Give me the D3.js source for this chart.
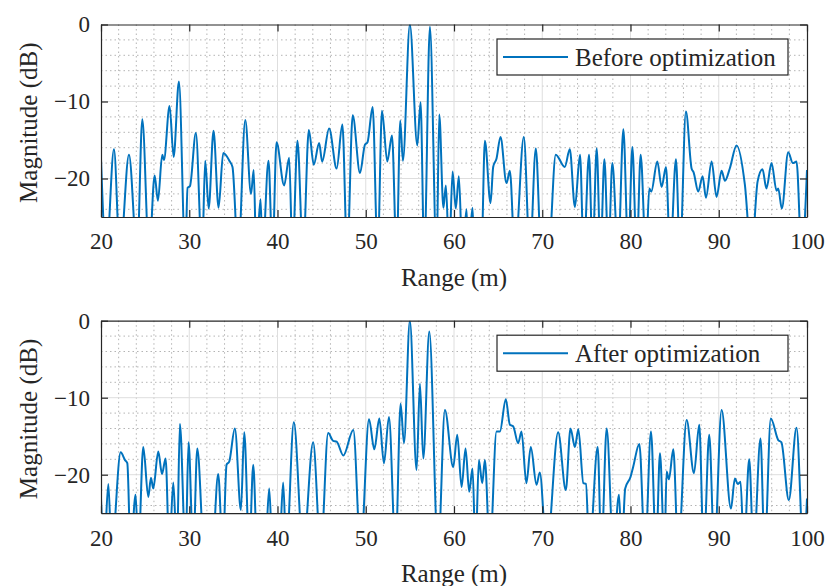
<!DOCTYPE html>
<meta charset="utf-8">
<style>
    body {
        margin: 0;
        background: #fff;
    }

    svg text {
        font-family: "Liberation Serif", "Times New Roman", serif;
        fill: #262626;
    }

    .axis path,
    .axis line {
        fill: none;
        stroke: #262626;
        stroke-width: 1.2;
    }

    .grid-major {
        stroke: #dedede;
        stroke-width: 1;
    }

    .grid-minor {
        stroke: #b4b4b4;
        stroke-width: 1;
        stroke-dasharray: 1.5, 3;
    }
</style>

<body>
    <script src="https://d3js.org/d3.v7.min.js"></script>
    <script>

        // range (m), magnitude (dB); -30 marks a null that drops below the axis
        var beforeData = [
            [20.0, -17.5], [20.6, -30], [21.47, -16.2], [22.15, -30], [23.17, -16.9], [24.1, -30],
            [24.68, -12.3], [25.45, -30], [26.08, -19.6], [26.45, -22.9], [26.94, -16.9], [27.13, -17.6],
            [27.77, -10.6], [28.23, -17.2], [28.83, -7.4], [29.55, -30], [29.81, -21.2], [30.08, -21.0],
            [30.75, -14.1], [31.45, -30], [31.81, -17.7], [32.2, -23.9], [32.75, -13.8], [33.32, -23.8],
            [33.85, -16.7], [34.6, -17.8], [34.9, -18.5], [35.55, -30], [36.35, -12.4], [37.0, -22.0],
            [37.3, -18.9], [37.6, -30], [38.08, -22.7], [38.3, -30], [38.98, -17.7], [39.43, -30],
            [39.89, -15.3], [40.75, -20.9], [41.32, -17.3], [41.7, -30], [42.26, -15.1], [42.9, -30],
            [43.55, -13.7], [44.11, -18.2], [44.72, -15.4], [45.06, -17.8], [45.85, -13.5], [46.7, -18.7],
            [47.35, -13.0], [47.9, -30], [48.52, -11.8], [49.35, -19.3], [49.91, -15.6], [50.2, -15.3],
            [50.78, -10.7], [51.35, -30], [51.84, -11.2], [52.44, -17.8], [52.97, -14.4], [53.5, -30],
            [53.91, -12.5], [54.21, -17.7], [55.0, 0], [55.84, -15.7], [56.21, -10.1], [56.63, -30],
            [57.27, -0.3], [58.03, -30], [58.33, -11.7], [58.8, -23.8], [59.08, -20.9], [59.45, -30],
            [59.84, -19.1], [60.2, -23.9], [60.55, -19.7], [60.95, -30], [61.42, -24.0], [61.6, -30],
            [62.1, -23.8], [62.3, -30], [63.1, -30], [63.5, -15.1], [64.14, -23.2], [64.44, -18.5],
            [64.82, -17.4], [65.27, -14.6], [65.95, -20.6], [66.33, -19.0], [66.9, -30], [67.91, -14.6],
            [68.6, -30], [69.27, -16.1], [69.9, -30], [70.7, -30], [71.53, -16.9], [72.55, -18.5],
            [73.12, -16.2], [73.7, -23.7], [74.28, -16.9], [74.7, -30], [75.3, -16.9], [75.7, -30],
            [76.17, -16.1], [76.6, -30], [77.04, -17.5], [77.5, -30], [77.94, -18.0], [78.6, -30],
            [79.19, -13.6], [79.75, -30], [80.21, -15.9], [80.7, -30], [81.15, -16.9], [81.75, -30],
            [82.13, -21.3], [82.35, -21.7], [83.04, -17.8], [83.53, -21.1], [84.02, -18.5], [84.5, -30],
            [85.15, -17.5], [85.6, -30], [86.28, -11.3], [86.92, -18.7], [87.15, -19.2], [87.68, -21.7],
            [88.17, -19.7], [88.55, -22.5], [89.19, -17.8], [89.75, -22.4], [90.32, -19.0], [90.7, -20.3],
            [91.25, -18.7], [92.02, -15.7], [92.96, -20.8], [93.7, -30], [94.4, -20.4], [94.96, -18.8],
            [95.4, -21.3], [95.98, -18.0], [96.55, -21.6], [96.74, -21.3], [97.15, -23.9], [97.87, -16.6],
            [98.4, -18.0], [98.81, -17.8], [99.4, -30], [100, -18.9]
        ];

        var afterData = [
            [20.0, -23.1], [20.35, -30], [20.83, -21.2], [21.2, -30], [22.23, -17.1], [22.72, -18.1],
            [22.98, -18.5], [23.36, -30], [23.92, -22.6], [24.23, -30], [24.79, -16.4], [25.36, -22.9],
            [25.66, -20.4], [25.92, -21.8], [26.49, -17.0], [26.91, -19.9], [27.32, -17.9], [27.74, -30],
            [28.19, -21.0], [28.6, -30], [28.94, -13.4], [29.58, -30], [29.92, -15.8], [30.45, -30],
            [30.91, -16.6], [31.7, -30], [32.6, -30], [33.28, -19.9], [33.8, -30], [34.23, -18.7],
            [34.53, -18.3], [35.17, -14.0], [35.85, -24.6], [36.23, -14.5], [36.8, -30], [37.25, -18.7],
            [37.7, -30], [38.6, -30], [39.06, -21.8], [39.43, -30], [40.2, -30], [40.64, -21.0],
            [41.0, -30], [41.85, -13.2], [42.9, -30], [44.04, -15.8], [44.9, -30], [45.74, -14.6],
            [46.3, -15.6], [46.7, -15.7], [47.46, -17.5], [48.59, -14.2], [49.42, -30], [50.37, -12.8],
            [50.97, -16.7], [51.54, -12.7], [52.06, -18.5], [52.63, -12.5], [53.38, -30], [53.95, -10.8],
            [54.33, -15.9], [55.0, 0], [55.76, -19.4], [56.14, -8.2], [56.52, -17.9], [57.2, -1.4],
            [58.2, -30], [58.97, -11.6], [59.91, -19.0], [60.37, -14.8], [60.86, -21.6], [61.31, -16.6],
            [61.72, -22.2], [62.1, -19.2], [62.44, -30], [62.82, -18.1], [63.2, -21.1], [63.5, -18.1],
            [64.06, -30], [64.82, -14.4], [65.2, -14.4], [65.87, -10.2], [66.33, -13.5], [66.7, -13.7],
            [67.27, -15.9], [67.65, -14.4], [68.2, -21.1], [68.7, -16.4], [69.35, -21.3], [69.72, -19.7],
            [70.5, -30], [71.8, -14.5], [72.67, -22.0], [73.2, -14.0], [73.7, -16.4], [74.09, -14.1],
            [74.66, -21.1], [74.95, -21.2], [75.34, -30], [76.28, -16.4], [76.7, -30], [77.3, -14.0],
            [78.06, -30], [78.7, -22.6], [79.0, -30], [79.4, -21.8], [80.0, -20.3], [80.3, -19.0],
            [81.0, -16.0], [81.65, -30], [82.32, -14.4], [82.9, -30], [83.34, -17.2], [83.85, -30],
            [84.09, -19.6], [84.35, -20.6], [84.85, -16.7], [85.4, -30], [86.36, -12.9], [87.19, -19.8],
            [87.79, -13.5], [88.3, -30], [88.92, -14.8], [89.5, -30], [90.32, -11.6], [91.38, -24.4],
            [91.83, -20.5], [92.15, -21.2], [92.47, -20.9], [92.85, -30], [93.45, -18.0], [93.95, -30],
            [94.73, -15.3], [95.2, -30], [95.9, -12.7], [96.74, -15.5], [97.1, -15.8], [97.94, -23.3],
            [98.81, -13.9], [99.6, -30], [100, -23.1]
        ];

        var xTicks = [20, 30, 40, 50, 60, 70, 80, 90, 100];
        var yTicks = [-20, -10, 0];
        var legendLabels = ["Before optimization", "After optimization"];

        var W = 830, H = 586;
        var left = 101, plotW = 706, plotH = 192.5;
        var tops = [24.5, 320.7];

        var svg = d3.select("body").append("svg")
            .attr("width", W)
            .attr("height", H);

        var x = d3.scaleLinear().domain([20, 100]).range([0, plotW]);
        var y = d3.scaleLinear().domain([-25, 0]).range([plotH, 0]);

        var xMinor = d3.range(22, 100, 2).filter(function (v) { return v % 10 !== 0; });
        var yMinor = d3.range(-24, 0, 2).filter(function (v) { return v % 10 !== 0; });

        var line = d3.line()
            .x(function (d) { return x(d[0]); })
            .y(function (d) { return y(d[1]); })
            .curve(d3.curveMonotoneX);

        function panel(data, label, top, i) {
            var g = svg.append("g")
                .attr("transform", "translate(" + left + "," + top + ")");

            g.append("clipPath").attr("id", "clip" + i)
                .append("rect").attr("width", plotW).attr("height", plotH);

            // minor grid
            g.selectAll(null).data(xMinor).enter().append("line")
                .attr("class", "grid-minor")
                .attr("x1", function (d) { return x(d); }).attr("x2", function (d) { return x(d); })
                .attr("y1", 0).attr("y2", plotH);
            g.selectAll(null).data(yMinor).enter().append("line")
                .attr("class", "grid-minor")
                .attr("y1", function (d) { return y(d); }).attr("y2", function (d) { return y(d); })
                .attr("x1", 0).attr("x2", plotW);

            // major grid
            g.selectAll(null).data(xTicks.slice(1, -1)).enter().append("line")
                .attr("class", "grid-major")
                .attr("x1", function (d) { return x(d); }).attr("x2", function (d) { return x(d); })
                .attr("y1", 0).attr("y2", plotH);
            g.selectAll(null).data([-20, -10]).enter().append("line")
                .attr("class", "grid-major")
                .attr("y1", function (d) { return y(d); }).attr("y2", function (d) { return y(d); })
                .attr("x1", 0).attr("x2", plotW);

            g.append("path")
                .datum(data)
                .attr("clip-path", "url(#clip" + i + ")")
                .attr("fill", "none")
                .attr("stroke", "#0072BD")
                .attr("stroke-width", 2)
                .attr("stroke-linejoin", "round")
                .attr("d", line);

            // axes (ticks point inward, on all four sides)
            g.append("g")
                .attr("class", "axis")
                .attr("transform", "translate(0," + plotH + ")")
                .call(d3.axisBottom(x).tickValues(xTicks).tickSize(-7).tickSizeOuter(0).tickPadding(16))
                .selectAll("text").attr("font-size", 23);
            g.append("g")
                .attr("class", "axis")
                .call(d3.axisTop(x).tickValues(xTicks).tickSize(-7).tickSizeOuter(0).tickFormat(""));
            g.append("g")
                .attr("class", "axis")
                .call(d3.axisLeft(y).tickValues(yTicks).tickSize(-7).tickSizeOuter(0).tickPadding(11))
                .selectAll("text").attr("font-size", 23);
            g.append("g")
                .attr("class", "axis")
                .attr("transform", "translate(" + plotW + ",0)")
                .call(d3.axisRight(y).tickValues(yTicks).tickSize(-7).tickSizeOuter(0).tickFormat(""));
            g.selectAll(".axis text").attr("fill", "#262626").attr("font-family", "Liberation Serif");

            g.append("text")
                .attr("x", plotW / 2)
                .attr("y", plotH + 69)
                .attr("text-anchor", "middle")
                .attr("font-size", 25)
                .text("Range (m)");

            g.append("text")
                .attr("transform", "translate(" + (-64) + "," + (plotH / 2 + 2) + ") rotate(-90)")
                .attr("text-anchor", "middle")
                .attr("font-size", 25)
                .text("Magnitude (dB)");

            // legend
            var lg = g.append("g").attr("transform", "translate(" + (497 - left) + ",14.5)");
            lg.append("rect")
                .attr("width", 291).attr("height", 36)
                .attr("fill", "#fff").attr("stroke", "#262626").attr("stroke-width", 1.2);
            lg.append("line")
                .attr("x1", 6).attr("x2", 71).attr("y1", 18).attr("y2", 18)
                .attr("stroke", "#0072BD").attr("stroke-width", 2);
            lg.append("text")
                .attr("x", 78).attr("y", 26.5)
                .attr("font-size", 25)
                .attr("fill", "#000")
                .text(label);
        }

        panel(beforeData, legendLabels[0], tops[0], 0);
        panel(afterData, legendLabels[1], tops[1], 1);

    </script>
</body>
